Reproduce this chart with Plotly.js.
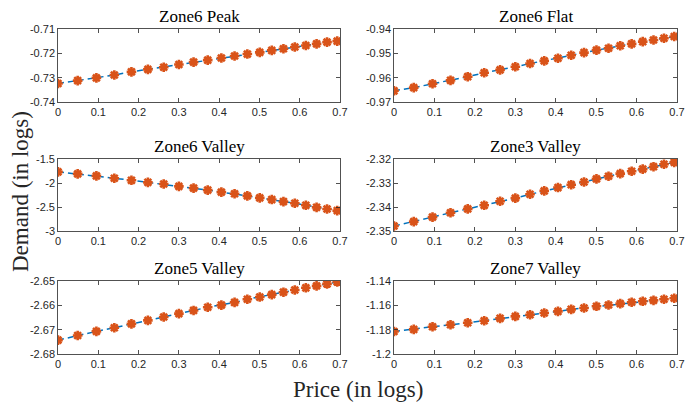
<!DOCTYPE html>
<html><head><meta charset="utf-8">
<script src="https://cdn.plot.ly/plotly-3.0.1.min.js"></script>
<style>html,body{margin:0;padding:0;background:#fff}#c{width:691px;height:404px}</style>
</head><body><div id="c"></div>
<script>
const price = [0, 0.0488, 0.0953, 0.1398, 0.1823, 0.2231, 0.2624, 0.3001, 0.3365, 0.3716, 0.4055, 0.4383, 0.4700, 0.5008, 0.5306, 0.5596, 0.5878, 0.6152, 0.6419, 0.6678, 0.6931];
const titles = ["Zone6 Peak", "Zone6 Flat", "Zone6 Valley", "Zone3 Valley", "Zone5 Valley", "Zone7 Valley"];
const zone6Peak = [-0.7324, -0.7312, -0.7301, -0.7289, -0.7276, -0.7266, -0.7257, -0.7246, -0.7236, -0.7228, -0.7219, -0.7211, -0.7203, -0.7196, -0.7188, -0.7181, -0.7174, -0.7168, -0.7161, -0.7154, -0.7150];
const zone6Flat = [-0.9654, -0.9641, -0.9625, -0.9611, -0.9596, -0.9580, -0.9568, -0.9555, -0.9542, -0.9531, -0.9520, -0.9508, -0.9497, -0.9487, -0.9479, -0.9469, -0.9461, -0.9452, -0.9445, -0.9438, -0.9431];
const zone6Valley = [-1.768, -1.810, -1.852, -1.901, -1.944, -1.986, -2.021, -2.070, -2.106, -2.148, -2.190, -2.225, -2.268, -2.310, -2.345, -2.387, -2.423, -2.465, -2.507, -2.542, -2.575];
const zone3Valley = [-2.3479, -2.3461, -2.3442, -2.3424, -2.3408, -2.3393, -2.3376, -2.3363, -2.3347, -2.3333, -2.3319, -2.3307, -2.3296, -2.3283, -2.3272, -2.3261, -2.3251, -2.3242, -2.3232, -2.3222, -2.3214];
const zone5Valley = [-2.6743, -2.6724, -2.6707, -2.6692, -2.6676, -2.6662, -2.6648, -2.6634, -2.6621, -2.6608, -2.6599, -2.6588, -2.6575, -2.6566, -2.6556, -2.6546, -2.6537, -2.6528, -2.6520, -2.6512, -2.6504];
const zone7Valley = [-1.1815, -1.1798, -1.1776, -1.1760, -1.1743, -1.1727, -1.1707, -1.1691, -1.1677, -1.1663, -1.1650, -1.1633, -1.1622, -1.1608, -1.1597, -1.1586, -1.1575, -1.1567, -1.1559, -1.1550, -1.1542];
const xTicks = [0, 0.1, 0.2, 0.3, 0.4, 0.5, 0.6, 0.7];
const xTickText = ["0", "0.1", "0.2", "0.3", "0.4", "0.5", "0.6", "0.7"];
const yTicks = [
  [-0.74, -0.73, -0.72, -0.71],
  [-0.97, -0.96, -0.95, -0.94],
  [-3, -2.5, -2, -1.5],
  [-2.35, -2.34, -2.33, -2.32],
  [-2.68, -2.67, -2.66, -2.65],
  [-1.2, -1.18, -1.16, -1.14]
];
const yTickText = [
  ["-0.74", "-0.73", "-0.72", "-0.71"],
  ["-0.97", "-0.96", "-0.95", "-0.94"],
  ["-3", "-2.5", "-2", "-1.5"],
  ["-2.35", "-2.34", "-2.33", "-2.32"],
  ["-2.68", "-2.67", "-2.66", "-2.65"],
  ["-1.2", "-1.18", "-1.16", "-1.14"]
];
const series = [zone6Peak, zone6Flat, zone6Valley, zone3Valley, zone5Valley, zone7Valley];

const W = 691, H = 404;
const colsPx = [[58, 340], [394, 677]];
const rowsPx = [[29, 102], [159, 231], [281, 354]];

const data = [];
const layout = {
  width: W, height: H, margin: {l: 0, r: 0, t: 0, b: 0},
  paper_bgcolor: '#fff', plot_bgcolor: '#fff', showlegend: false,
  font: {family: 'Liberation Sans, Arial, sans-serif', color: '#262626', size: 11},
  annotations: []
};
series.forEach((ys, i) => {
  const r = Math.floor(i / 2), c = i % 2;
  const xa = 'x' + (i + 1), ya = 'y' + (i + 1);
  data.push({x: price, y: ys, xaxis: xa, yaxis: ya, mode: 'lines', type: 'scatter',
    line: {color: '#0072BD', width: 1.5, dash: '6px,4px'}, hoverinfo: 'skip'});
  data.push({x: price, y: ys, xaxis: xa, yaxis: ya, mode: 'markers', type: 'scatter',
    marker: {symbol: 'asterisk-open', size: 8, color: '#D95319', line: {color: '#D95319', width: 2.6}}});
  const xd = [colsPx[c][0] / W, colsPx[c][1] / W];
  const yd = [1 - rowsPx[r][1] / H, 1 - rowsPx[r][0] / H];
  const ax = {showgrid: false, zeroline: false, showline: true, linecolor: '#262626', linewidth: 0.8,
    mirror: 'allticks', ticks: 'inside', ticklen: 4, tickcolor: '#262626', tickwidth: 0.8,
    tickfont: {family: 'Liberation Sans, Arial, sans-serif', size: 11, color: '#262626'}};
  layout['xaxis' + (i + 1)] = Object.assign({}, ax, {domain: xd, anchor: ya, range: [0, 0.7],
    tickmode: 'array', tickvals: xTicks, ticktext: xTickText});
  const yt = yTicks[i];
  layout['yaxis' + (i + 1)] = Object.assign({}, ax, {domain: yd, anchor: xa, range: [yt[0], yt[yt.length - 1]],
    tickmode: 'array', tickvals: yt, ticktext: yTickText[i], ticklabelstandoff: 0});
  layout.annotations.push({text: titles[i], xref: 'paper', yref: 'paper', x: (xd[0] + xd[1]) / 2, y: yd[1],
    xanchor: 'center', yanchor: 'bottom', yshift: 1, showarrow: false,
    font: {family: 'Liberation Serif, Times New Roman, serif', size: 17, color: '#000'}});
});
layout.annotations.push({text: 'Demand (in logs)', xref: 'paper', yref: 'paper', x: 20 / W, y: 1 - 192 / H,
  textangle: -90, showarrow: false, xanchor: 'center', yanchor: 'middle',
  font: {family: 'Liberation Serif, Times New Roman, serif', size: 23, color: '#262626'}});
layout.annotations.push({text: 'Price (in logs)', xref: 'paper', yref: 'paper', x: 358 / W, y: 1 - 389 / H,
  showarrow: false, xanchor: 'center', yanchor: 'middle',
  font: {family: 'Liberation Serif, Times New Roman, serif', size: 23, color: '#262626'}});
Plotly.newPlot('c', data, layout, {staticPlot: true});
</script></body></html>
